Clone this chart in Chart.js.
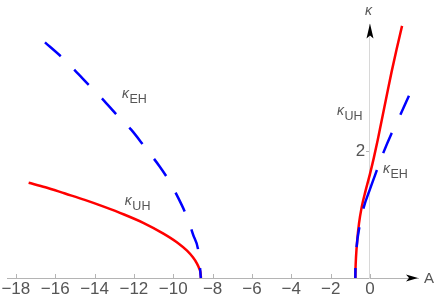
<!DOCTYPE html>
<html>
<head>
<meta charset="utf-8">
<script src="https://cdn.jsdelivr.net/npm/chart.js@4.4.0/dist/chart.umd.min.js"></script>
<style>
  html, body { margin: 0; padding: 0; background: #fff; }
  #wrap { width: 436px; height: 301px; position: relative; }
</style>
</head>
<body>
<div id="wrap"><canvas id="chart"></canvas></div>
<script>
// kappa_UH (red, solid)
const uhLeftA  = [-17.35, -16.5, -15.5, -14.5, -13.5, -12.5, -11.5, -10.5, -9.8, -9.3, -9.0, -8.8, -8.68, -8.62, -8.59];
const uhLeftK  = [1.50, 1.43, 1.33, 1.23, 1.12, 1.00, 0.865, 0.70, 0.56, 0.43, 0.325, 0.23, 0.15, 0.09, 0.0];
const uhRightA = [-0.745, -0.735, -0.71, -0.65, -0.56, -0.42, -0.22, 0, 0.20, 0.39, 0.56, 0.73, 0.90, 1.1, 1.35, 1.63];
const uhRightK = [0.0, 0.15, 0.33, 0.59, 0.855, 1.12, 1.38, 1.64, 1.90, 2.17, 2.43, 2.69, 2.95, 3.25, 3.6, 3.97];

// kappa_EH (blue, dashed)
const ehLeftA  = [-16.52, -15.71, -15.0, -14.23, -13.57, -12.81, -12.15, -11.44, -10.7, -10.27, -9.76, -9.30, -9.0, -8.69, -8.60];
const ehLeftK  = [3.71, 3.49, 3.27, 3.02, 2.81, 2.55, 2.34, 2.06, 1.76, 1.56, 1.27, 0.96, 0.69, 0.35, 0.0];
const ehRightA = [-0.745, -0.74, -0.68, -0.54, -0.34, 0, 0.34, 0.65, 1.10, 1.53, 1.98];
const ehRightK = [0.0, 0.15, 0.49, 0.80, 1.09, 1.40, 1.69, 1.95, 2.28, 2.56, 2.87];

const xTicks = [-18, -16, -14, -12, -10, -8, -6, -4, -2, 0];
const yTicks = [2];

const FONT = "'Liberation Sans', Arial, sans-serif";
const TEXT = '#555';

function pts(xs, ys) {
    return xs.map((x, i) => ({ x: x, y: ys[i] }));
}

// curve labels, kappa with a subscript, at data coordinates
const curveLabels = [
    { sub: 'EH', a: -12.61, k: 2.83 },
    { sub: 'UH', a: -12.46, k: 1.15 },
    { sub: 'UH', a: -1.68, k: 2.56 },
    { sub: 'EH', a: 0.66, k: 1.65 }
];

const decorations = {
    id: 'decorations',
    afterDraw(chart) {
        const { ctx, scales: { x, y } } = chart;
        const x0 = x.getPixelForValue(0);
        const y0 = y.getPixelForValue(0);
        ctx.save();

        // tick marks on the A axis point up
        ctx.strokeStyle = '#b4b4b4';
        ctx.lineWidth = 1;
        xTicks.forEach(v => {
            const px = Math.round(x.getPixelForValue(v)) + 0.5;
            ctx.beginPath();
            ctx.moveTo(px, y0);
            ctx.lineTo(px, y0 - 4);
            ctx.stroke();
        });

        // arrow heads
        ctx.fillStyle = '#000';
        const xr = x.right;
        ctx.beginPath();
        ctx.moveTo(xr, y0);
        ctx.lineTo(xr - 12, y0 - 3.5);
        ctx.lineTo(xr - 9, y0);
        ctx.lineTo(xr - 12, y0 + 3.5);
        ctx.closePath();
        ctx.fill();

        const yt = y.top - 0.5;
        ctx.beginPath();
        ctx.moveTo(x0, yt);
        ctx.lineTo(x0 - 3.5, yt + 15);
        ctx.lineTo(x0, yt + 12);
        ctx.lineTo(x0 + 3.5, yt + 15);
        ctx.closePath();
        ctx.fill();

        // axis names
        ctx.fillStyle = TEXT;
        ctx.textBaseline = 'alphabetic';
        ctx.textAlign = 'left';
        ctx.font = 'italic 14px ' + FONT;
        ctx.fillText('\u03BA', x0 - 5, 15);
        ctx.font = '15px ' + FONT;
        ctx.fillText('A', xr + 6, y0 + 5);

        // curve labels
        curveLabels.forEach(l => {
            const px = x.getPixelForValue(l.a);
            const py = y.getPixelForValue(l.k);
            ctx.font = 'italic 14px ' + FONT;
            ctx.fillText('\u03BA', px, py);
            const w = ctx.measureText('\u03BA').width;
            ctx.font = '12.5px ' + FONT;
            ctx.fillText(l.sub, px + w + 0.5, py + 5);
        });
        ctx.restore();
    }
};

new Chart(document.getElementById('chart'), {
    type: 'line',
    data: {
        datasets: [
            {
                label: 'EH left',
                data: pts(ehLeftA, ehLeftK),
                borderColor: '#0000ff',
                borderWidth: 2.5,
                borderDash: [21, 19],
                borderCapStyle: 'butt',
                pointRadius: 0,
                cubicInterpolationMode: 'monotone'
            },
            {
                label: 'EH right',
                data: pts(ehRightA, ehRightK),
                borderColor: '#0000ff',
                borderWidth: 2.5,
                // irregular dashing as in the original plot
                borderDash: [10, 21, 20, 19, 41, 18, 22, 20, 22, 60],
                borderCapStyle: 'butt',
                pointRadius: 0,
                cubicInterpolationMode: 'monotone'
            },
            {
                label: 'UH left',
                data: pts(uhLeftA, uhLeftK),
                borderColor: '#ff0000',
                borderWidth: 2.5,
                pointRadius: 0,
                cubicInterpolationMode: 'monotone'
            },
            {
                label: 'UH right',
                data: pts(uhRightA, uhRightK),
                borderColor: '#ff0000',
                borderWidth: 2.5,
                pointRadius: 0,
                cubicInterpolationMode: 'monotone'
            }
        ]
    },
    options: {
        responsive: true,
        maintainAspectRatio: false,
        animation: false,
        clip: false,
        layout: { padding: { left: 7, right: 18, top: 24, bottom: 23 } },
        plugins: {
            legend: { display: false },
            tooltip: { enabled: false }
        },
        scales: {
            x: {
                type: 'linear',
                position: { y: 0 },
                min: -18.45,
                max: 2.44,
                afterBuildTicks: scale => { scale.ticks = xTicks.map(v => ({ value: v })); },
                grid: { display: false, drawTicks: false },
                border: { display: true, color: '#b4b4b4', width: 1 },
                ticks: {
                    autoSkip: false,
                    maxRotation: 0,
                    padding: 1,
                    color: TEXT,
                    font: { family: FONT, size: 17 },
                    callback: v => v < 0 ? '\u2212' + Math.abs(v) : String(v)
                }
            },
            y: {
                type: 'linear',
                position: { x: 0 },
                min: 0,
                max: 4,
                afterBuildTicks: scale => { scale.ticks = yTicks.map(v => ({ value: v })); },
                grid: { display: true, drawOnChartArea: false, drawTicks: true, tickLength: 3, color: '#b4b4b4' },
                border: { display: true, color: '#d8d8d8', width: 1 },
                ticks: {
                    padding: 2,
                    color: TEXT,
                    font: { family: FONT, size: 17 },
                    // labels of a value-positioned axis sit on the axis line, so pad with spaces
                    callback: v => String(v) + '\u2009\u200A'
                }
            }
        }
    },
    plugins: [decorations]
});
</script>
</body>
</html>
